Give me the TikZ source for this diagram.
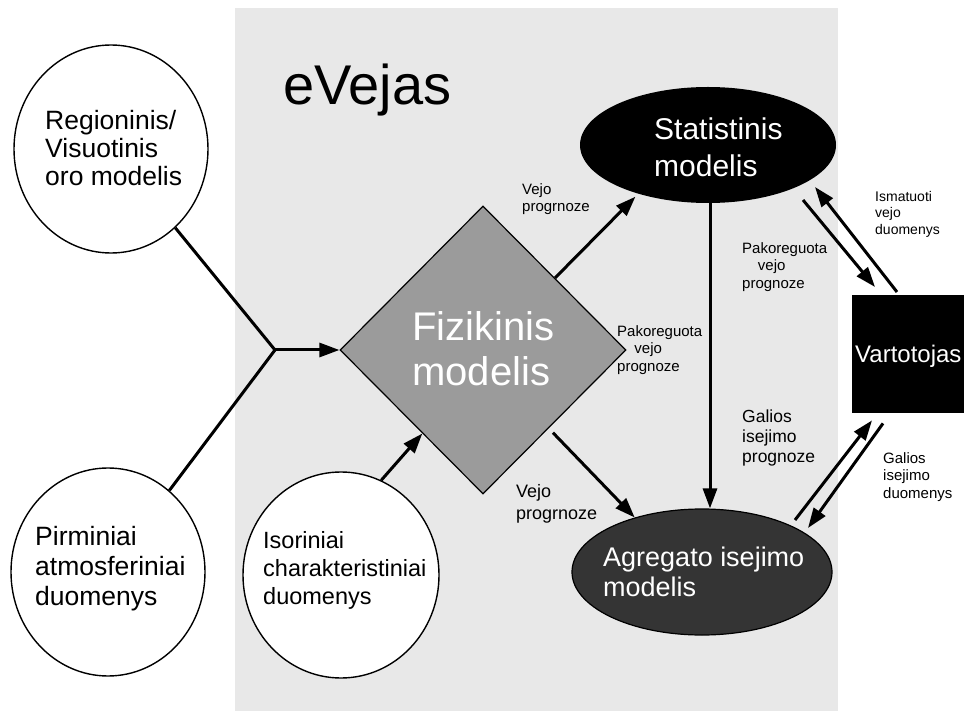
\documentclass[tikz,border=0pt]{standalone}
\usepackage{fontspec}
\setmainfont{Liberation Sans}
\usetikzlibrary{arrows.meta,shapes.geometric,calc}
\newcommand\myfs[2]{\fontsize{#1}{#2}\selectfont}
\definecolor{panelgray}{RGB}{232,232,232}
\definecolor{diagray}{RGB}{155,155,155}
\definecolor{agrgray}{RGB}{52,52,52}
\begin{document}
\begin{tikzpicture}[x=1pt,y=-1pt,
  conn/.style={line width=3pt, -{Triangle[length=20pt,width=14pt]}},
  plainline/.style={line width=3pt},
  circ/.style={ellipse, draw, line width=1.4pt, fill=white, inner sep=0pt},
  ctext/.style={align=left, inner sep=0pt, anchor=west},
  wtext/.style={align=left, inner sep=0pt, anchor=west, text=white},
  lbl/.style={align=left, inner sep=0pt, anchor=west, font=\myfs{15}{17.5}},
]
\useasboundingbox (0,0) rectangle (964,711);
\fill[white] (0,0) rectangle (964,711);
\fill[panelgray] (235,8) rectangle (838,711);

% title
\node[anchor=base west, inner sep=0pt, font=\myfs{56}{60}] (title) at (283,105) {eVejas};

% input circles
\node[circ, minimum width=194pt, minimum height=208pt] (reg) at (111,149) {};
\node[ctext, font=\myfs{26.5}{28}] (regt) at (45,148) {Regioninis/\\Visuotinis\\oro modelis};
\node[circ, minimum width=194pt, minimum height=208pt] (pir) at (108,572) {};
\node[ctext, font=\myfs{26.5}{30}] (pirt) at (35,569) {Pirminiai\\atmosferiniai\\duomenys};
\node[circ, minimum width=196pt, minimum height=206pt] (iso) at (341,575) {};
\node[ctext, font=\myfs{23.5}{28}] (isot) at (263,570) {Isoriniai\\charakteristiniai\\duomenys};

% physical model
\node[diamond, draw, line width=1.2pt, fill=diagray, minimum width=286pt, minimum height=288pt, inner sep=0pt] (fiz) at (483,350) {};
\node[wtext, font=\myfs{40}{45}] (fizt) at (412,349) {Fizikinis\\modelis};

% statistical model
\node[ellipse, fill=black, minimum width=256pt, minimum height=116pt, inner sep=0pt] (stat) at (708,145) {};
\node[wtext, font=\myfs{30}{37}] (statt) at (654,147) {Statistinis\\modelis};

% aggregate model
\node[ellipse, draw=black, line width=1.2pt, fill=agrgray, minimum width=260pt, minimum height=126pt, inner sep=0pt] (agr) at (702,572) {};
\node[wtext, font=\myfs{27}{30}] (agrt) at (603,572) {Agregato isejimo\\modelis};

% user
\node[fill=black, anchor=north west, minimum width=112pt, minimum height=118pt, inner sep=0pt] (vart) at (852,295) {};
\node[anchor=west, inner sep=0pt, text=white, font=\myfs{24}{28}] (vartt) at (855,356) {Vartotojas};

% connectors
\coordinate (jn) at (275,350);
\draw[plainline] (reg) -- (jn);
\draw[plainline] (pir) -- (jn);
\draw[conn] (jn) -- (fiz.west);
\draw[conn] (iso.67) -- (fiz.-126);
\draw[conn, shorten >=4pt] (fiz.45) -- (stat.-145);
\draw[conn, shorten <=6pt] (fiz.-50) -- (agr.141);
\draw[conn] ([xshift=2pt]stat.south) -- ([xshift=2pt]stat.south |- agr.north);
\draw[conn] ($(stat.center)+(95,55)$) -- ($(vart.north west)+(23,-8)$);
\draw[conn] ($(vart.north west)+(45,-3)$) -- ($(stat.center)+(107,42)$);
\draw[conn] ($(agr.center)+(93,-52)$) -- ($(vart.south west)+(20,7)$);
\draw[conn] ($(vart.south west)+(31,10)$) -- ($(agr.center)+(106,-44)$);

% labels
\node[lbl] (l1) at (522,199) {Vejo\\progrnoze};
\node[lbl] (l2) at (742,267) {Pakoreguota\\\hspace*{1.05em}vejo\\prognoze};
\node[lbl] (l3) at (617,350) {Pakoreguota\\\hspace*{1.15em}vejo\\prognoze};
\node[lbl, font=\myfs{18}{22}] (l4) at (516,504) {Vejo\\progrnoze};
\node[lbl, font=\myfs{17.5}{20}] (l5) at (742,438) {Galios\\isejimo\\prognoze};
\node[lbl, font=\myfs{14}{16.5}] (l6) at (875,214) {Ismatuoti\\vejo\\duomenys};
\node[lbl] (l7) at (883,477) {Galios\\isejimo\\duomenys};
\end{tikzpicture}
\end{document}
